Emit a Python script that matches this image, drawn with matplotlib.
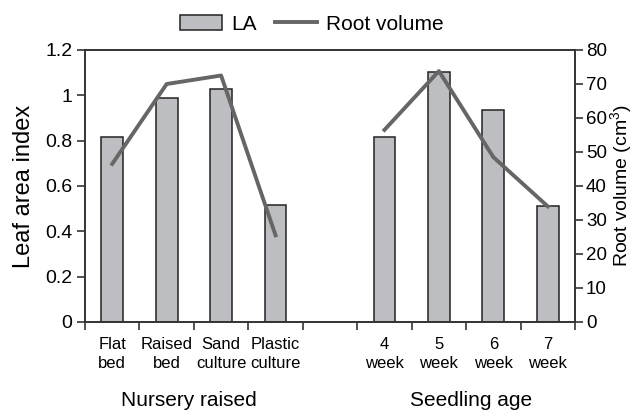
import matplotlib
matplotlib.use("Agg")
import matplotlib.pyplot as plt
import numpy as np

plt.rcParams['font.family'] = ['Liberation Sans', 'DejaVu Sans']
plt.rcParams['mathtext.fontset'] = 'custom'
plt.rcParams['mathtext.rm'] = 'Liberation Sans'
plt.rcParams['mathtext.it'] = 'Liberation Sans'
plt.rcParams['mathtext.default'] = 'rm'

# data (slot 4 is the empty gap between groups)
categories = ["Flat\nbed", "Raised\nbed", "Sand\nculture", "Plastic\nculture", "",
              "4\nweek", "5\nweek", "6\nweek", "7\nweek"]
la = [0.815, 0.99, 1.03, 0.515, np.nan, 0.815, 1.105, 0.935, 0.51]
root_volume = [46.5, 70, 72.5, 25.5, np.nan, 56.5, 73.8, 48.5, 34]
groups = ["Nursery raised", "Seedling age"]

x = np.arange(len(categories))

fig = plt.figure(figsize=(6.34, 4.12), dpi=100)
ax = fig.add_axes([85/634, 90/412, 490/634, 272/412])
ax2 = ax.twinx()

bars = ax.bar(x, la, width=0.4, color='#bdbec2', edgecolor='#222222', linewidth=1.1, label='LA')
line, = ax2.plot(x, root_volume, color='#666666', linewidth=2.8, label='Root volume')

ax.set_xlim(-0.5, len(categories) - 0.5)
ax.set_ylim(0, 1.2)
ax2.set_ylim(0, 80)
ax.set_yticks(np.arange(0, 1.21, 0.2))
ax.set_yticklabels(["0", "0.2", "0.4", "0.6", "0.8", "1", "1.2"])
ax2.set_yticks(np.arange(0, 81, 10))

ax.set_xticks(x)
ax.set_xticklabels(categories, fontsize=12, linespacing=1.3)
ax.set_xticks(np.arange(-0.5, len(categories), 1), minor=True)
ax.tick_params(axis='x', which='major', length=0, pad=11)
ax.tick_params(axis='x', which='minor', length=6, width=1.2, color='#333333', direction='out')
ax.tick_params(axis='y', length=6, width=1.2, labelsize=14, color='#333333', pad=3)
ax2.tick_params(axis='y', length=6, width=1.2, labelsize=13.5, color='#333333', pad=2)

for a in (ax, ax2):
    for s in a.spines.values():
        s.set_linewidth(1.2)
        s.set_color('#333333')

ax.set_ylabel("Leaf area index", fontsize=17)
ax2.set_ylabel("Root volume (cm$^{3}$)", fontsize=14)
ax.yaxis.set_label_coords((24 - 85) / 490, 0.5)
ax2.yaxis.set_label_coords((621 - 85) / 490, 0.5)
ax.yaxis.label.set_va('center')
ax2.yaxis.label.set_va('center')

# group labels below the category labels
ax.text(1.4, -0.287, groups[0], transform=ax.get_xaxis_transform(),
        ha='center', va='center', fontsize=15)
ax.text(6.6, -0.287, groups[1], transform=ax.get_xaxis_transform(),
        ha='center', va='center', fontsize=15)

fig.legend([bars, line], ["LA", "Root volume"], loc='center', bbox_to_anchor=(312/634, 1 - 24/412),
           ncol=2, frameon=False, fontsize=15, handlelength=2.0, handleheight=0.7,
           columnspacing=0.9, handletextpad=0.45)

plt.savefig("out.png", dpi=100)
